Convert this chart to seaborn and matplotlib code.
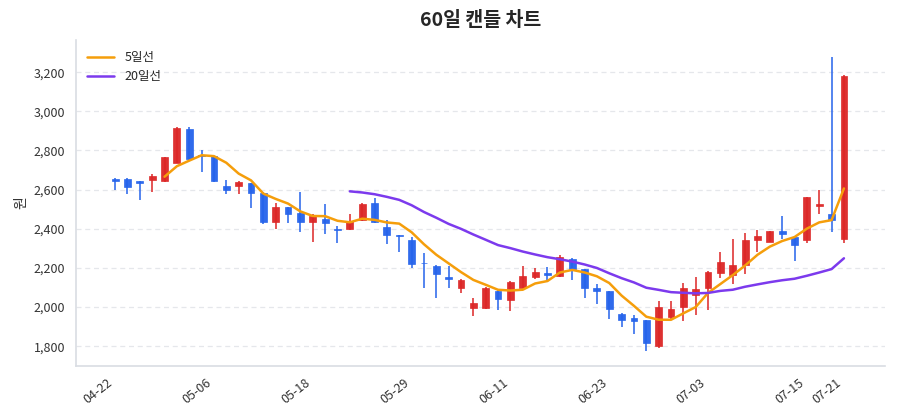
import numpy as np
import pandas as pd
import matplotlib
matplotlib.use('Agg')
import matplotlib.pyplot as plt
import seaborn as sns
from matplotlib.ticker import FuncFormatter

# 60일 OHLC
opens = [2656, 2653, 2642, 2647, 2642, 2737, 2912, 2776, 2771, 2620,
         2617, 2634, 2585, 2437, 2510, 2483, 2437, 2449, 2400, 2397,
         2447, 2534, 2408, 2368, 2344, 2225, 2212, 2155, 2099, 1995,
         1993, 2084, 2036, 2099, 2155, 2176, 2161, 2244, 2195, 2099,
         2082, 1967, 1943, 1933, 1801, 1947, 1998, 2063, 2096, 2173,
         2162, 2215, 2342, 2332, 2387, 2357, 2342, 2514, 2474, 2347]
highs = [2658, 2661, 2643, 2678, 2768, 2922, 2918, 2800, 2773, 2647,
         2646, 2636, 2587, 2532, 2512, 2586, 2478, 2527, 2415, 2478,
         2531, 2556, 2444, 2368, 2360, 2275, 2214, 2212, 2145, 2046,
         2101, 2086, 2133, 2210, 2198, 2207, 2267, 2250, 2197, 2116,
         2084, 1969, 1962, 1935, 2032, 2032, 2122, 2156, 2183, 2283,
         2347, 2381, 2396, 2391, 2464, 2360, 2563, 2599, 3276, 3185]
lows = [2600, 2580, 2549, 2590, 2640, 2735, 2754, 2688, 2640, 2580,
        2580, 2505, 2425, 2398, 2429, 2383, 2330, 2373, 2325, 2395,
        2440, 2430, 2322, 2280, 2202, 2096, 2049, 2097, 2070, 1955,
        1991, 1984, 1979, 2097, 2142, 2138, 2155, 2138, 2048, 2014,
        1937, 1899, 1861, 1774, 1793, 1933, 1927, 1958, 1985, 2147,
        2118, 2169, 2279, 2330, 2349, 2237, 2325, 2474, 2382, 2325]
closes = [2645, 2614, 2636, 2669, 2766, 2914, 2756, 2774, 2646, 2597,
          2637, 2583, 2436, 2510, 2478, 2437, 2466, 2432, 2392, 2439,
          2529, 2436, 2366, 2362, 2219, 2223, 2167, 2145, 2140, 2019,
          2099, 2039, 2126, 2161, 2178, 2162, 2256, 2193, 2096, 2080,
          1990, 1935, 1931, 1819, 2003, 1988, 2100, 2091, 2181, 2230,
          2215, 2345, 2365, 2389, 2374, 2316, 2560, 2525, 2447, 3183]

tick_pos = [0, 8, 16, 24, 32, 40, 48, 56, 59]
tick_labels = ['04-22', '05-06', '05-18', '05-29', '06-11',
               '06-23', '07-03', '07-15', '07-21']

UP = '#dc2626'
DOWN = '#2563eb'

df = pd.DataFrame({'open': opens, 'high': highs, 'low': lows, 'close': closes})
df['idx'] = np.arange(len(df))
df['ma5'] = df['close'].rolling(5).mean()
df['ma20'] = df['close'].rolling(20).mean()

sns.set_theme(style='white')
plt.rcParams['font.family'] = ['Noto Sans CJK KR', 'DejaVu Sans']
plt.rcParams['axes.unicode_minus'] = False

fig, ax = plt.subplots(figsize=(9, 4.2), dpi=100)
fig.subplots_adjust(left=0.084, right=0.983, top=0.905, bottom=0.129)

colors = np.where(df['close'] >= df['open'], UP, DOWN)
body_low = np.minimum(df['open'], df['close'])
body_h = np.abs(df['close'] - df['open']).clip(lower=4)

# 꼬리 + 몸통
ax.vlines(df['idx'], df['low'], df['high'], colors=colors, linewidth=1.1, zorder=2)
ax.bar(df['idx'], body_h, bottom=body_low, width=0.55, color=colors,
       edgecolor=colors, linewidth=0.5, alpha=0.95, zorder=3)

sns.lineplot(data=df, x='idx', y='ma5', ax=ax, color='#f59e0b', linewidth=1.8,
             label='5일선', zorder=4)
sns.lineplot(data=df, x='idx', y='ma20', ax=ax, color='#7c3aed', linewidth=1.8,
             label='20일선', zorder=4)

ax.set_xlim(-3.2, 62.3)
ax.set_ylim(1700, 3365)
ax.set_yticks(np.arange(1800, 3201, 200))
ax.yaxis.set_major_formatter(FuncFormatter(lambda v, p: f'{int(v):,}'))
ax.set_xticks(tick_pos)
ax.set_xticklabels(tick_labels, rotation=38, ha='right')

ax.grid(axis='y', linestyle=(0, (4, 3)), color='#e5e7eb', linewidth=0.9)
ax.set_axisbelow(True)
for s in ['top', 'right']:
    ax.spines[s].set_visible(False)
for s in ['left', 'bottom']:
    ax.spines[s].set_color('#d9dde3')
    ax.spines[s].set_linewidth(1.2)
ax.tick_params(axis='both', length=4, width=1, color='#888888',
               labelsize=9, labelcolor='#333333')

ax.set_xlabel('')
ax.set_ylabel('원', fontsize=10, color='#333333')
ax.set_title('60일 캔들 차트', fontsize=14, fontweight='bold', pad=10)

ax.legend(loc='upper left', frameon=False, fontsize=9, handlelength=2.2)

plt.savefig('out.png', dpi=100)
